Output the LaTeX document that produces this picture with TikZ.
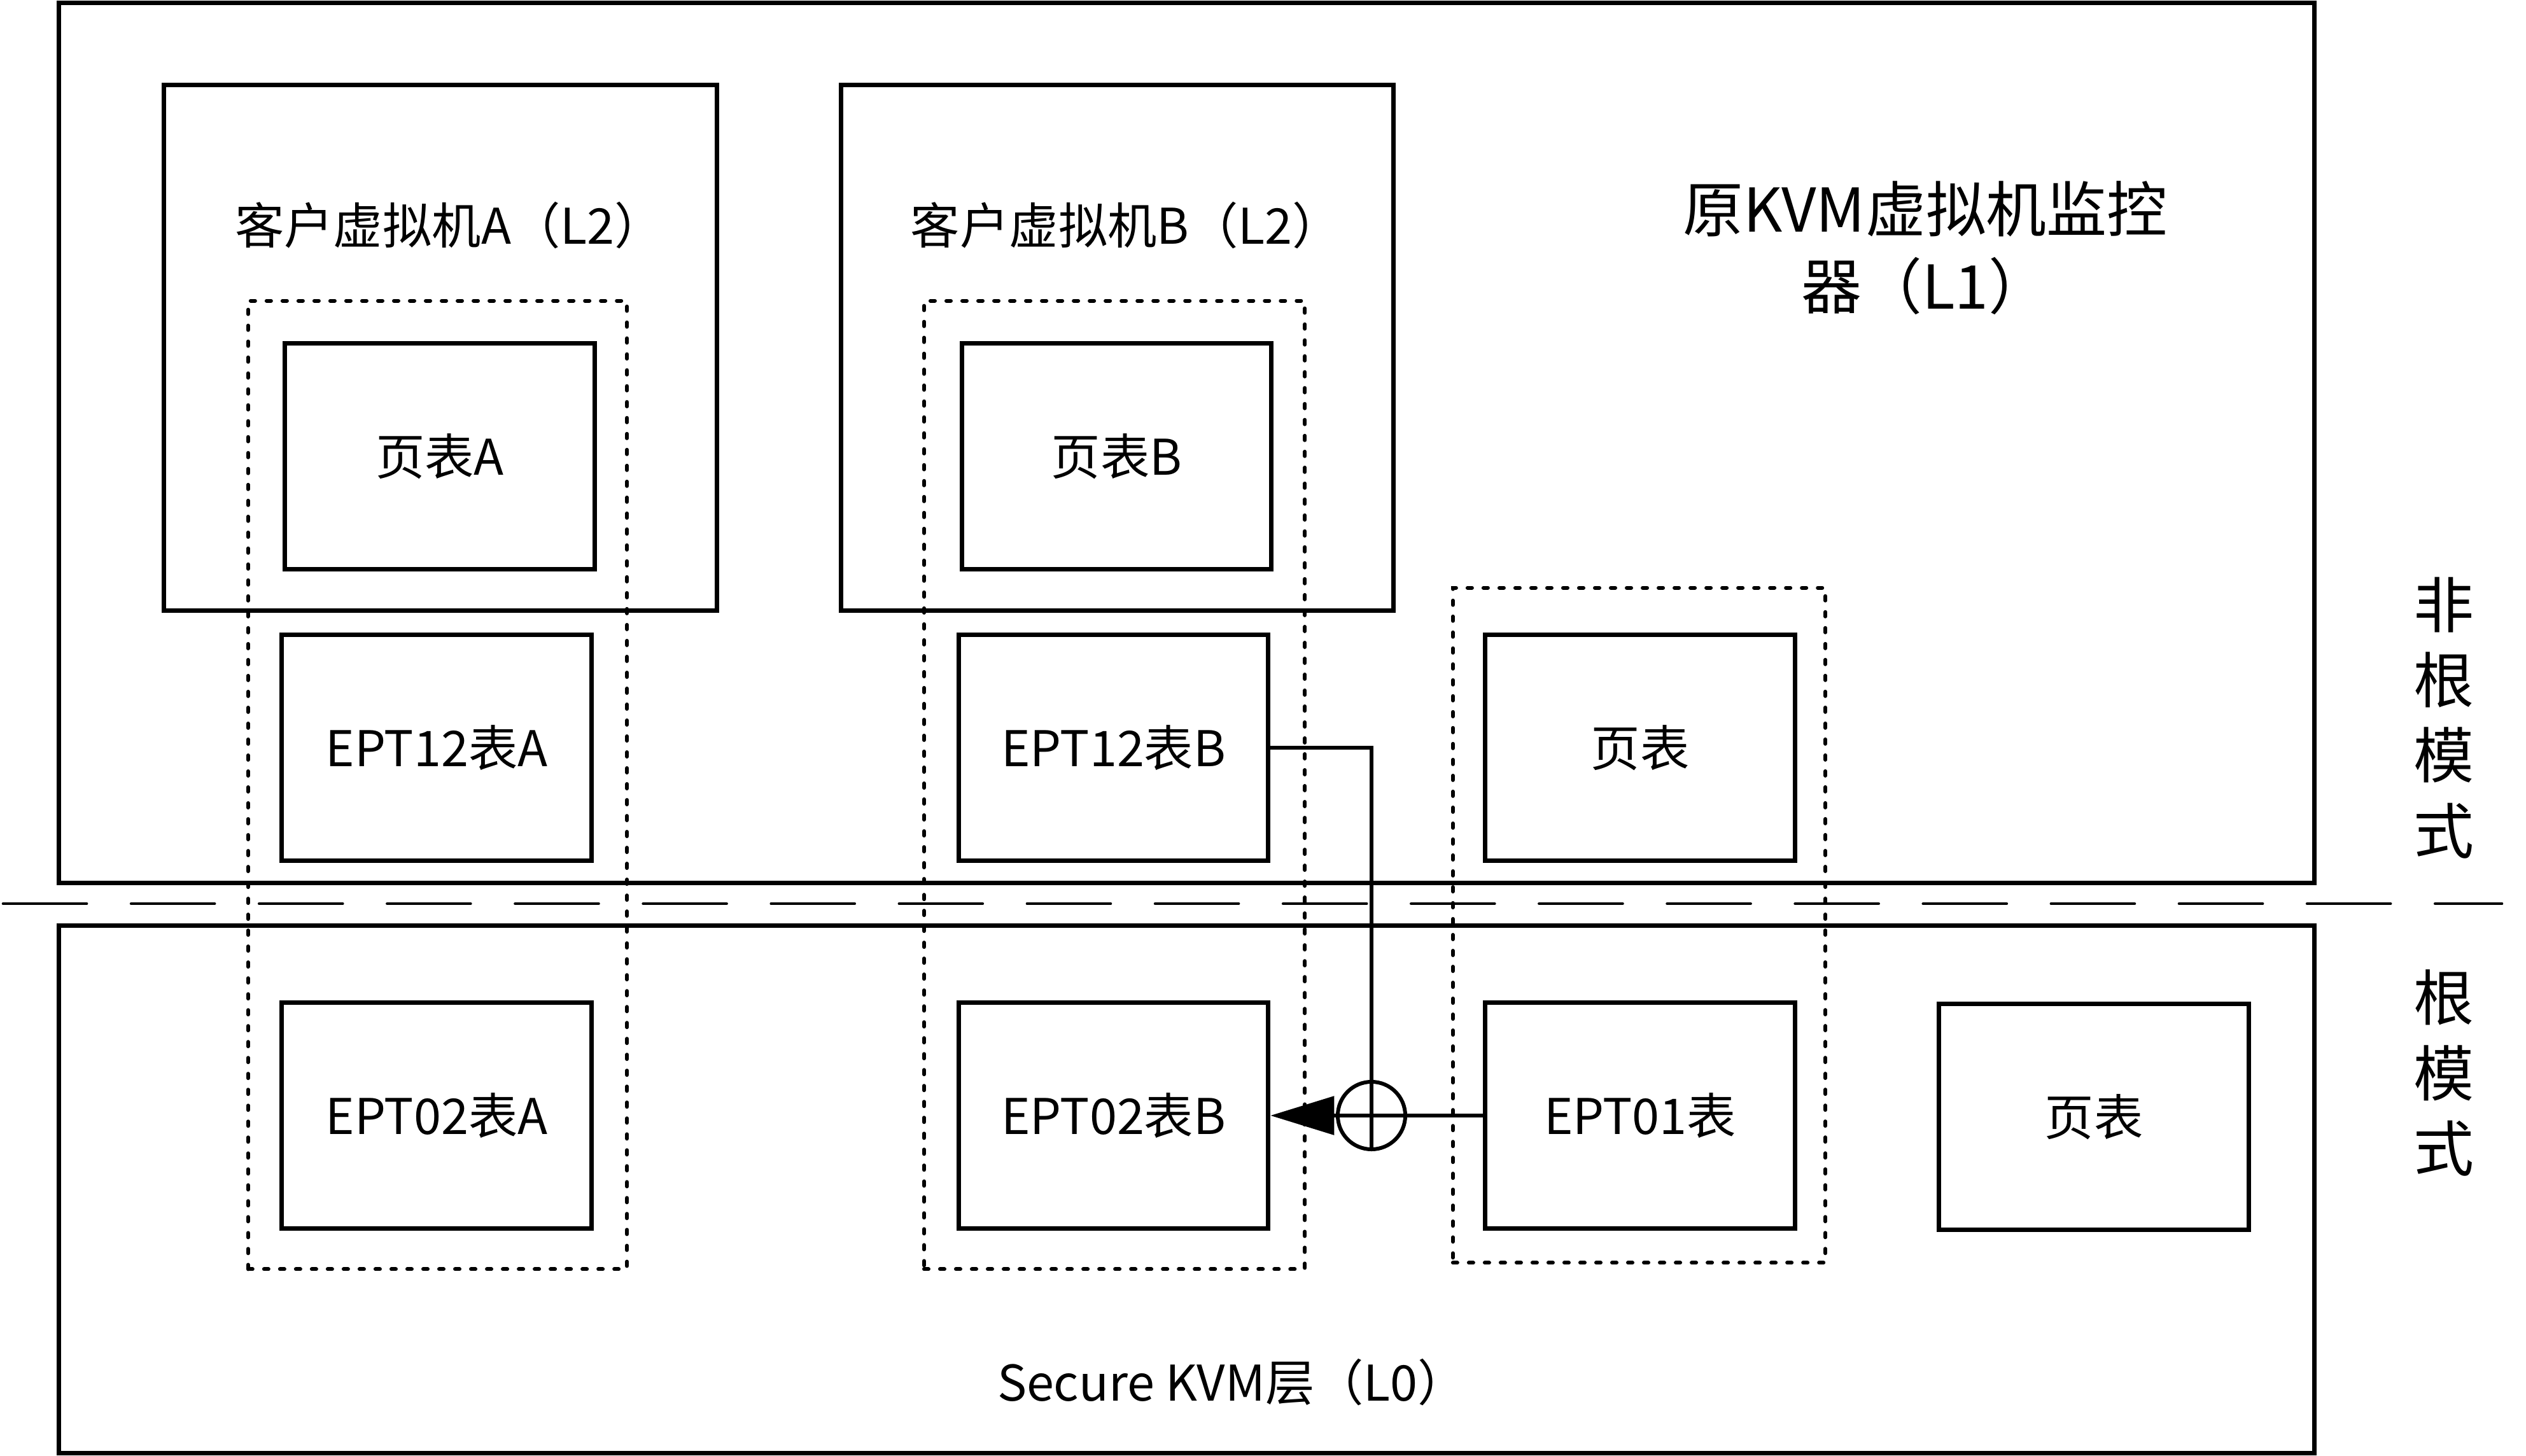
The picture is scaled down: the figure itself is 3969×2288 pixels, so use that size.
\documentclass[tikz,border=0pt]{standalone}
\usepackage{fontspec}
\setmainfont{Noto Sans CJK SC}
\usetikzlibrary{shapes.geometric, arrows.meta}
\tikzstyle{layerbox} = [rectangle, draw=black, line width=2pt]
\tikzstyle{guest} = [rectangle, minimum width=8.68cm, minimum height=8.25cm, draw=black, line width=2pt]
\tikzstyle{groupbox} = [rectangle, draw=black, line width=1.7pt, line cap=round, dash pattern=on 0.07cm off 0.18cm]
\tikzstyle{tbl} = [rectangle, minimum width=4.86cm, minimum height=3.55cm, text centered, draw=black, line width=2pt, font=\fontsize{22}{26}\selectfont]
\tikzstyle{boxtitle} = [font=\fontsize{22}{26}\selectfont]
\tikzstyle{sidetitle} = [font=\fontsize{27}{33.6}\selectfont, align=center]
\tikzstyle{modeline} = [line width=1.3pt, line cap=round, dash pattern=on 1.31cm off 0.7cm]
\tikzstyle{conn} = [line width=1.7pt]
\tikzstyle{arrow} = [line width=1.7pt, -{Triangle[length=1.0cm, width=0.6cm]}]

\begin{document}
\begin{tikzpicture}[x=0.01cm, y=-0.01cm, node distance=10.63cm]
    \useasboundingbox (0,0) rectangle (3969,2288);

    \node (l1) [layerbox, minimum width=35.41cm, minimum height=13.82cm] at (1864.5,696) {};
    \node (l0) [layerbox, minimum width=35.41cm, minimum height=8.28cm] at (1864.5,1869) {};
    \node (vma) [guest] at (692,546.5) {};
    \node (vmb) [guest, right of=vma] {};

    \node (grpa) [groupbox, minimum width=5.95cm, minimum height=15.21cm] at (687.5,1233.5) {};
    \node (grpb) [groupbox, minimum width=5.98cm, minimum height=15.21cm, right of=grpa] {};
    \node (grpc) [groupbox, minimum width=5.85cm, minimum height=10.6cm] at (2575.5,1454) {};

    \node (pta) [tbl] at (691,717) {页表A};
    \node (ptb) [tbl, right of=pta] {页表B};
    \node (ept12a) [tbl] at (686,1175) {EPT12表A};
    \node (ept12b) [tbl, right of=ept12a] {EPT12表B};
    \node (pt1) [tbl] at (2577,1175) {页表};
    \node (ept02a) [tbl] at (686,1753) {EPT02表A};
    \node (ept02b) [tbl, right of=ept02a] {EPT02表B};
    \node (ept01) [tbl] at (2577,1753) {EPT01表};
    \node (pt0) [tbl] at (3290,1755) {页表};

    \node (vmatext) [boxtitle] at (706,354) {客户虚拟机A（L2）};
    \node (vmbtext) [boxtitle, right of=vmatext] {客户虚拟机B（L2）};
    \node (l1text) [sidetitle, font=\fontsize{27}{34.4}\selectfont] at (3025,390) {原KVM虚拟机监控\\器（L1）};
    \node (l0text) [boxtitle] at (1936,2172) {Secure KVM层（L0）};
    \node (nonroot) [sidetitle] at (3840,1128) {非\\根\\模\\式};
    \node (root) [sidetitle] at (3840,1686) {根\\模\\式};

    \coordinate (sepl) at (5,1420);
    \coordinate (sepr) at (3931,1420);
    \draw [modeline] (sepl) -- (sepr);

    \node (xor) [circle, draw=black, line width=1.7pt, minimum size=1.06cm, inner sep=0pt] at (2155,1753) {};
    \draw [conn] (xor.north) -- (xor.south) (xor.west) -- (xor.east);

    \draw [conn] (ept12b.east) -| (xor.north);
    \draw [conn] (ept01.west) -- (xor.east);
    \draw [arrow] (xor.west) -- (ept02b.east);

\end{tikzpicture}
\end{document}
